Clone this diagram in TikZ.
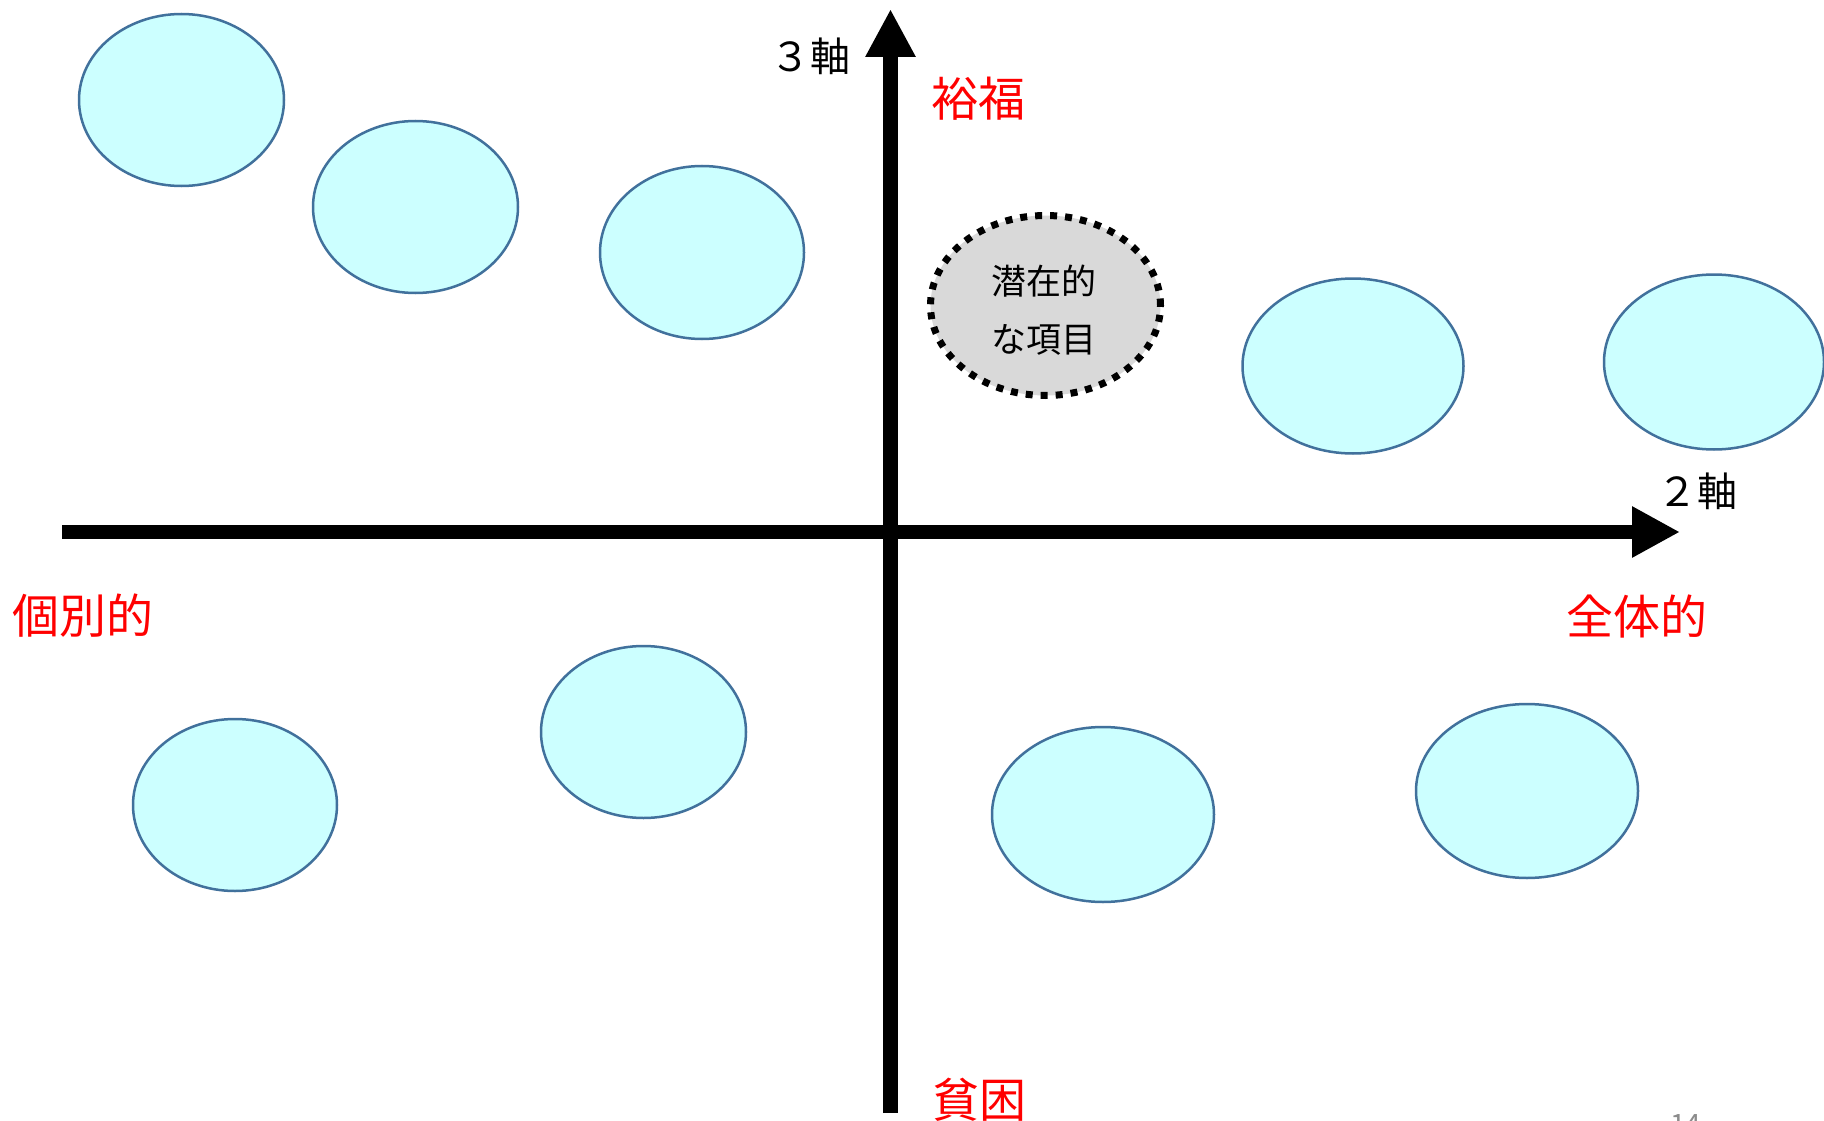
\documentclass[tikz,border=0pt]{standalone}
\usepackage{fontspec}
\newfontfamily\jp{Noto Sans CJK JP}
\usetikzlibrary{shapes.geometric,arrows.meta}
\definecolor{bubfill}{HTML}{CCFFFF}
\definecolor{bubline}{HTML}{41719C}
\definecolor{latfill}{HTML}{D9D9D9}
\definecolor{pagegray}{HTML}{8C8C8C}
\begin{document}
\begin{tikzpicture}[x=1pt,y=-1pt,
  bub/.style={ellipse, draw=bubline, fill=bubfill, line width=2.5pt, inner sep=0pt},
  latent/.style={ellipse, draw=black, fill=latfill, line width=7pt, dash pattern=on 7pt off 8pt, inner sep=0pt},
  lattext/.style={align=center, inner sep=0pt, font=\jp\fontsize{35pt}{58pt}\selectfont},
  axisline/.style={line width=14pt, -{Triangle[length=48pt,width=48pt]}},
  redlbl/.style={text=red, inner sep=0pt, font=\jp\fontsize{47pt}{56pt}\selectfont},
  axlbl/.style={text=black, inner sep=0pt, font=\jp\fontsize{40pt}{48pt}\selectfont}]
\useasboundingbox (0,0) rectangle (1824,1121);
\fill[white] (0,0) rectangle (1824,1121);

% bubbles
\node[bub, minimum width=205pt, minimum height=172pt] (e1) at (181.5,100) {};
\node[bub, minimum width=205pt, minimum height=172pt] (e2) at (415.5,207) {};
\node[bub, minimum width=204pt, minimum height=173pt] (e3) at (702,252.5) {};
\node[bub, minimum width=221pt, minimum height=175pt] (e4) at (1353,366) {};
\node[bub, minimum width=220pt, minimum height=175pt] (e5) at (1714,362) {};
\node[bub, minimum width=204pt, minimum height=172pt] (e6) at (235,805) {};
\node[bub, minimum width=205pt, minimum height=172pt] (e7) at (643.5,732) {};
\node[bub, minimum width=222pt, minimum height=175pt] (e8) at (1103,814.5) {};
\node[bub, minimum width=222pt, minimum height=174pt] (e9) at (1527,791) {};

% latent item
\node[latent, minimum width=230pt, minimum height=180pt] (lat) at (1045.5,305.5) {};
\node[lattext] (lattxt) at (1044,310) {潜在的\\な項目};

% axes
\coordinate (hstart) at (62,532);
\coordinate (hend) at (1680,532);
\coordinate (vstart) at (890.5,1113);
\coordinate (vend) at (890.5,9);
\draw[axisline] (hstart) -- (hend);
\draw[axisline, line width=15pt, -{Triangle[length=48pt,width=47pt]}] (vstart) -- (vend);

% labels
\node[axlbl] (ax3) at (810,56) {３軸};
\node[axlbl] (ax2) at (1697,491) {２軸};
\node[redlbl] (rich) at (978,99) {裕福};
\node[redlbl] (poor) at (979,1100) {貧困};
\node[redlbl] (whole) at (1637,616) {全体的};
\node[redlbl] (indiv) at (83,616) {個別的};

% page number (cut off at the bottom edge, as in the reference)
\begin{scope}
\clip (0,0) rectangle (1824,1121);
\node[text=pagegray, inner sep=0pt, anchor=base west, font=\jp\fontsize{28pt}{34pt}\selectfont] (pg) at (1670,1134) {14};
\end{scope}
\end{tikzpicture}
\end{document}
